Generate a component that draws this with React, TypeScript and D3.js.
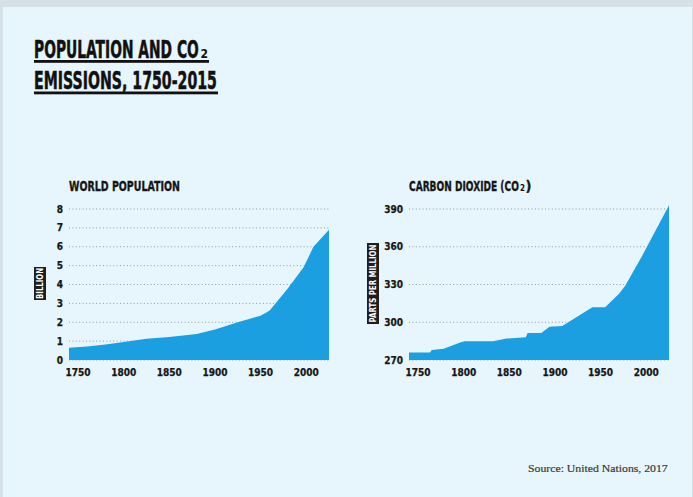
import React, { useLayoutEffect, useRef, useState } from 'react';
import * as d3 from 'd3';

// World population, billions
const popYears = [1740, 1760, 1780, 1800, 1825, 1850, 1880, 1900, 1925, 1950, 1960, 1980, 1997, 2008, 2025];
const popValues = [0.65, 0.72, 0.82, 0.95, 1.12, 1.22, 1.38, 1.62, 2.0, 2.35, 2.62, 3.8, 4.9, 6.0, 6.9];

// CO2 concentration, parts per million
const co2Years = [1740, 1763, 1765, 1778, 1796, 1801, 1832, 1847, 1868, 1870, 1885, 1894, 1908, 1941, 1955, 1970, 1977, 1995, 2025];
const co2Values = [276, 276, 278, 279, 284, 285, 285, 287, 288, 291.5, 291.5, 296.5, 297, 312, 312, 322.5, 329, 352, 393];

const xTicks = [1750, 1800, 1850, 1900, 1950, 2000];
const popTicks = [0, 1, 2, 3, 4, 5, 6, 7, 8];
const co2Ticks = [270, 300, 330, 360, 390];

const FONT = "'Liberation Sans Narrow', 'DejaVu Sans Condensed', 'Liberation Sans', sans-serif";
const AREA = '#1b9fe0';
const GRID = '#8d9ca4';
const INK = '#161616';

// text squeezed horizontally to a given width (the reference uses a condensed display face)
interface FitTextProps {
  x: number;
  y: number;
  width: number;
  size: number;
  fill?: string;
  stroke?: number;
  family?: string;
  bold?: boolean;
  rotate?: boolean;
  children: string;
}

const FitText: React.FC<FitTextProps> = ({ x, y, width, size, fill = INK, stroke = 0, family = FONT, bold = true, rotate, children }) => {
  const ref = useRef<SVGTextElement>(null);
  const [sx, setSx] = useState(1);
  useLayoutEffect(() => {
    if (!ref.current) return;
    const w = ref.current.getComputedTextLength();
    if (w > 0) setSx(width / w);
  }, [width, children]);
  const tf = rotate
    ? `translate(${x},${y}) rotate(-90) scale(${sx},1)`
    : `translate(${x},${y}) scale(${sx},1)`;
  return (
    <text ref={ref} transform={tf} textAnchor={rotate ? 'middle' : 'start'} fontFamily={family}
      fontWeight={bold ? 'bold' : 'normal'} fontSize={size} fill={fill}
      stroke={stroke ? fill : 'none'} strokeWidth={stroke}>{children}</text>
  );
};

interface PanelProps {
  left: number;
  title: string;
  titleLen: number;
  sub?: boolean;
  unit: string;
  unitLen: number;
  unitH: number;
  unitX: number;
  years: number[];
  values: number[];
  yTicks: number[];
  labelRight: number;
}

const Panel: React.FC<PanelProps> = ({ left, title, titleLen, sub, unit, unitLen, unitH, unitX, years, values, yTicks, labelRight }) => {
  const x = d3.scaleLinear().domain([1740, 2025]).range([left, left + 260]);
  const y = d3.scaleLinear().domain([yTicks[0], yTicks[yTicks.length - 1]]).range([360, 209]);
  const pts = years.map((yr, i) => [yr, values[i]] as [number, number]);
  const area = d3.area<[number, number]>()
    .x(d => x(d[0]))
    .y0(y(yTicks[0]))
    .y1(d => y(d[1]));

  const tEnd = left + titleLen;

  return (
    <g>
      <FitText x={left} y={190.5} width={titleLen} size={14.5} stroke={0.35}>{title}</FitText>
      {sub && (
        <>
          <text x={tEnd + 1} y={190.5} fontFamily={FONT} fontWeight="bold" fontSize={8} fill={INK}>2</text>
          <text x={tEnd + 6.5} y={190.5} fontFamily={FONT} fontWeight="bold" fontSize={14.5} fill={INK}
            stroke={INK} strokeWidth={0.35}>)</text>
        </>
      )}

      {yTicks.map(t => (
        <line key={'g' + t} x1={left} x2={left + 260} y1={y(t)} y2={y(t)}
          stroke={GRID} strokeWidth={1} strokeDasharray="1 2.4" />
      ))}

      <path d={area(pts) || ''} fill={AREA} />

      {yTicks.map(t => (
        <text key={'y' + t} x={labelRight} y={y(t)} dy="0.36em" textAnchor="end"
          fontFamily={FONT} fontWeight="bold" fontSize={10} fill={INK} stroke={INK} strokeWidth={0.25}>{t}</text>
      ))}

      {xTicks.map(t => (
        <text key={'x' + t} x={x(t)} y={375.5} textAnchor="middle"
          fontFamily={FONT} fontWeight="bold" fontSize={10} fill={INK} stroke={INK} strokeWidth={0.25}>{t}</text>
      ))}

      <rect x={unitX - 6} y={283.5 - unitH / 2} width={12} height={unitH} fill="#1e1e1e" />
      <FitText x={unitX + 3.3} y={283.5} width={unitLen} size={9} fill="#ffffff" rotate>{unit}</FitText>
    </g>
  );
};

export default function App() {
  return (
    <>
      <style>{'body{margin:0}'}</style>
      <svg width={693} height={497} style={{ display: 'block' }}>
        <rect x={0} y={0} width={693} height={497} fill="#d6e1e7" />
        <rect x={3} y={7} width={689} height={490} fill="#e7f5fc" />

        <FitText x={34} y={58} width={165} size={24.5} fill="#111" stroke={0.5}>POPULATION AND CO</FitText>
        <text x={200.5} y={58} fontFamily={FONT} fontWeight="bold" fontSize={12} fill="#111">2</text>
        <rect x={34} y={60} width={175} height={2.8} fill="#111" />
        <FitText x={34} y={89} width={183} size={24.5} fill="#111" stroke={0.5}>EMISSIONS, 1750-2015</FitText>
        <rect x={34} y={91.5} width={184} height={2.8} fill="#111" />

        <Panel left={69} title="WORLD POPULATION" titleLen={111} unit="BILLION" unitLen={31} unitH={33} unitX={40}
          years={popYears} values={popValues} yTicks={popTicks} labelRight={63} />
        <Panel left={409} title="CARBON DIOXIDE (CO" titleLen={110} sub unit="PARTS PER MILLION" unitLen={78} unitH={81} unitX={373}
          years={co2Years} values={co2Values} yTicks={co2Ticks} labelRight={403} />

        <FitText x={528} y={472} width={140} size={11} fill="#3a3a3a" stroke={0.2}
          family="'Liberation Serif', serif" bold={false}>Source: United Nations, 2017</FitText>
      </svg>
    </>
  );
}
